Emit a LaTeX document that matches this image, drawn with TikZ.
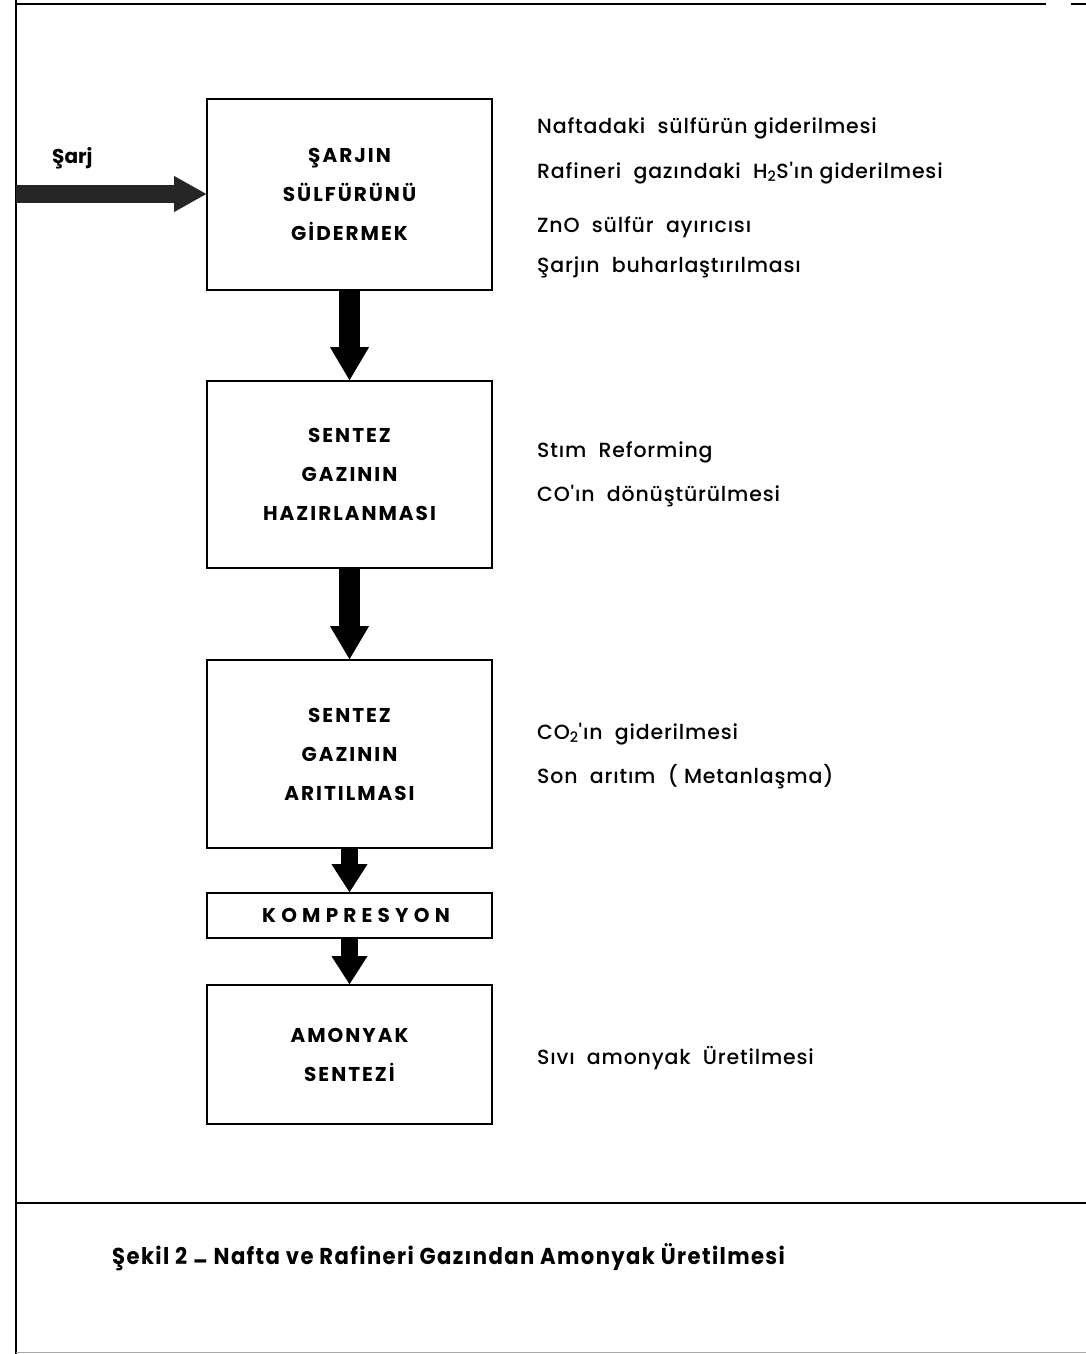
\documentclass[tikz,border=0pt]{standalone}
\usepackage{fontspec}
\setmainfont{Poppins}
\newfontface\notefont{Poppins Medium}[LetterSpace=4]
\usetikzlibrary{arrows.meta,positioning}

\newcommand{\stagefont}{\fontsize{20}{39}\selectfont\bfseries\addfontfeatures{LetterSpace=10}}
\tikzset{
  stage/.style={draw, line width=1.6pt, minimum width=285pt, align=center, inner sep=0pt, font=\stagefont},
  flow/.style={line width=21pt, -{Triangle[length=33pt,width=39pt,line width=0pt]}},
  note/.style={anchor=west, inner sep=0pt, font=\notefont\fontsize{20.5}{22}\selectfont},
}

\begin{document}
\begin{tikzpicture}[x=1pt,y=-1pt]
\useasboundingbox (0,0) rectangle (1086,1354);

% frame
\draw[line width=2pt] (16,0) -- (16,1354);
\draw[line width=2.2pt] (16,4) -- (1046,4);
\draw[line width=2.2pt] (1071,4) -- (1086,4);
\draw[line width=2.2pt] (16,1203) -- (1086,1203);
\draw[line width=1pt, black!35] (16,1352) -- (1086,1352);

% stages
\node[stage, minimum height=191pt] (desulf) at (349.5,194.5) {ŞARJIN\\SÜLFÜRÜNÜ\\GİDERMEK};
\node[stage, minimum height=187pt] (prep) at (349.5,474.5) {SENTEZ\\GAZININ\\HAZIRLANMASI};
\node[stage, minimum height=188pt] (purif) at (349.5,754) {SENTEZ\\GAZININ\\ARITILMASI};
\node[stage, minimum height=45pt, font=\stagefont\addfontfeatures{LetterSpace=26}] (comp) at (349.5,915.5) {\hspace*{13pt}KOMPRESYON};
\node[stage, minimum height=139pt] (synth) at (349.5,1054.5) {AMONYAK\\SENTEZİ};

% feed
\coordinate (feed) at (16,194);
\node[anchor=west, inner sep=0pt, font=\bfseries\fontsize{20}{22}\selectfont] (feedlbl) at (52,158) {Şarj};
\draw[flow, line width=18pt, black!85, -{Triangle[length=32pt,width=36pt,line width=0pt]}] (feed) -- (feed -| desulf.west);

% flow arrows
\draw[flow] (desulf) -- (prep);
\draw[flow] (prep) -- (purif);
\draw[flow, line width=17pt, -{Triangle[length=28pt,width=36pt,line width=0pt]}] (purif) -- (comp);
\draw[flow, line width=17pt, -{Triangle[length=28pt,width=36pt,line width=0pt]}] (comp) -- (synth);

% notes
\node[note] (n1) at (537,128) {Naftadaki\ \ sülfürün giderilmesi};
\node[note] (n2) at (537,173) {Rafineri\ \ gazındaki\ \ H\textsubscript{2}S'ın giderilmesi};
\node[note] (n3) at (537,227) {ZnO\ \ sülfür\ \ ayırıcısı};
\node[note] (n4) at (537,267) {Şarjın\ \ buharlaştırılması};
\node[note] (n5) at (537,452) {Stım\ \ Reforming};
\node[note] (n6) at (537,496) {CO'ın\ \ dönüştürülmesi};
\node[note] (n7) at (537,734) {CO\textsubscript{2}'ın\ \ giderilmesi};
\node[note] (n8) at (537,777) {Son\ \ arıtım\ \ ( Metanlaşma)};
\node[note] (n9) at (537,1058) {Sıvı\ \ amonyak\ \ Üretilmesi};

% caption
\node[anchor=west, inner sep=0pt, font=\bfseries\fontsize{23}{26}\selectfont\addfontfeatures{FakeStretch=0.92,LetterSpace=6}] (cap) at (112,1257) {Şekil 2 \raisebox{-0.4ex}{–} Nafta ve Rafineri Gazından Amonyak Üretilmesi};
\end{tikzpicture}
\end{document}
